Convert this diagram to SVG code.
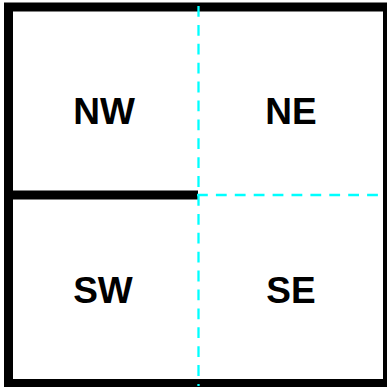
<svg xmlns="http://www.w3.org/2000/svg" width="387" height="387" viewBox="0 0 387 387">
<style>
.q{font-family:"Liberation Sans",Arial,sans-serif;font-weight:bold;font-size:37px;text-anchor:middle;fill:#000}
.d{stroke:#00ffff;stroke-width:2.3;stroke-dasharray:10.8 8.1;fill:none}
.b{stroke:#000;stroke-width:9;fill:none}
</style>
<rect width="387" height="387" fill="#fff"/>
<g id="NW"><text class="q" x="104" y="124">NW</text></g>
<g id="NE"><text class="q" x="291" y="124">NE</text></g>
<g id="SW"><text class="q" x="103" y="303">SW</text></g>
<g id="SE"><text class="q" x="291" y="303">SE</text></g>
<g id="connectors">
<rect class="b" x="8.5" y="7" width="379" height="376.5"/>
<line class="b" x1="8.5" y1="195" x2="198" y2="195"/>
<line class="d" x1="198.5" y1="6" x2="198.5" y2="386"/>
<line class="d" x1="197" y1="195" x2="383" y2="195"/>
</g>
</svg>
